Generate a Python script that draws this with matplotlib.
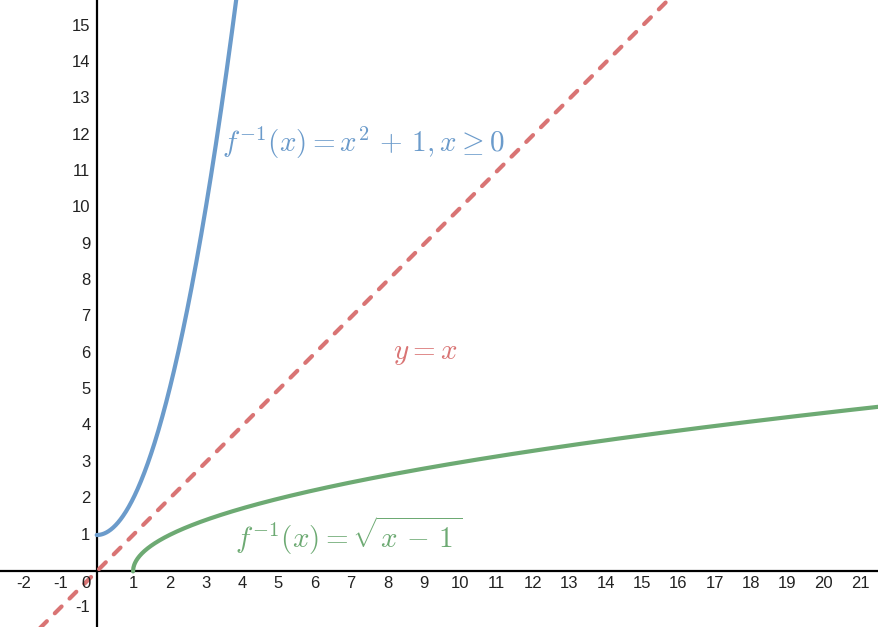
import numpy as np
import matplotlib.pyplot as plt

plt.rcParams['mathtext.fontset'] = 'cm'
plt.rcParams['font.family'] = ['Liberation Sans', 'DejaVu Sans']

# tick labels
x_ticks = [-2, -1, 1, 2, 3, 4, 5, 6, 7, 8, 9, 10, 11, 12, 13, 14, 15, 16, 17, 18, 19, 20, 21]
y_ticks = [-1, 1, 2, 3, 4, 5, 6, 7, 8, 9, 10, 11, 12, 13, 14, 15]

# curves
x_blue = np.linspace(0, 4, 300)
y_blue = x_blue ** 2 + 1
x_green = np.linspace(1, 22, 2000)
y_green = np.sqrt(x_green - 1)
x_red = np.array([-3, 22])
y_red = x_red

blue = '#6b9bcb'
red = '#d97474'
green = '#6daa73'

fig = plt.figure(figsize=(8.79, 6.27), dpi=100)
ax = fig.add_axes([0, 0, 1, 1])
ax.set_xlim(-2.66, 21.52)
ax.set_ylim(-1.53, 15.72)
ax.axis('off')

ax.axhline(0, color='black', lw=1.6, zorder=1)
ax.axvline(0, color='black', lw=1.6, zorder=1)

ax.plot(x_red, y_red, color=red, lw=3, dashes=(2.3, 2.7), dash_capstyle='round', zorder=3)
ax.plot(x_blue, y_blue, color=blue, lw=3, solid_capstyle='round', zorder=4)
ax.plot(x_green, y_green, color=green, lw=3, solid_capstyle='round', zorder=4)

for t in x_ticks:
    ax.annotate(str(t), (t, 0), xytext=(0, -3.5), textcoords='offset points',
                ha='center', va='top', fontsize=12, color='#222222')
for t in y_ticks:
    ax.annotate(str(t), (0, t), xytext=(-4.5, 0), textcoords='offset points',
                ha='right', va='center', fontsize=12, color='#222222')
ax.annotate('0', (0, 0), xytext=(-4.5, -3.5), textcoords='offset points',
            ha='right', va='top', fontsize=12, color='#222222')

ax.text(3.45, 11.54, r'$f^{-1}(x) = x^2 \,+\, 1, x \geq 0$', color=blue,
        fontsize=21, ha='left', va='baseline')
ax.text(8.14, 5.85, r'$y = x$', color=red, fontsize=21, ha='left', va='baseline')
ax.text(3.80, 0.65, r'$f^{-1}(x) = \sqrt{x \,-\, 1\,}$', color=green,
        fontsize=21, ha='left', va='baseline')

plt.savefig('out.png', dpi=100)
